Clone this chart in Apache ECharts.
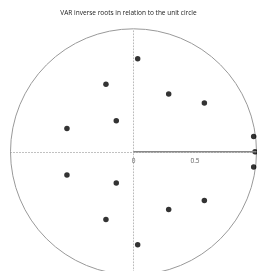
<!DOCTYPE html>
<html lang="en">

<head>
  <meta charset="utf-8">
  <title>VAR inverse roots</title>
  <style>
    html, body { margin: 0; padding: 0; background: #fff; }
    .box { width: 257px; height: 271px; }
  </style>
</head>

<body>
  <script src="https://cdn.jsdelivr.net/npm/echarts@6/dist/echarts.min.js"></script>
  <div class="box"></div>
  <script>
    var rootRe = [0.034, 0.286, 0.576, 0.977, 0.988, -0.224, -0.140, -0.541,
                  -0.541, -0.140, -0.224, 0.977, 0.576, 0.286, 0.034];
    var rootIm = [0.756, 0.469, 0.396, 0.124, 0, 0.550, 0.253, 0.189,
                  -0.189, -0.253, -0.550, -0.124, -0.396, -0.469, -0.756];
    // unit radius drawn on the real axis
    var radiusRe = [0, 1];
    var radiusIm = [0, 0];
    // tick labels shown on the real axis
    var xTickValues = [0, 0.5];
    var xTickLabels = ['0', '0.5'];

    var rootPoints = [];
    for (var i = 0; i < rootRe.length; i++) {
      rootPoints.push([rootRe[i], rootIm[i]]);
    }
    var radiusPoints = [];
    for (var j = 0; j < radiusRe.length; j++) {
      radiusPoints.push([radiusRe[j], radiusIm[j]]);
    }
    var tickPoints = [];
    for (var k = 0; k < xTickValues.length; k++) {
      tickPoints.push({ value: [xTickValues[k], 0], name: xTickLabels[k] });
    }

    var myChart = echarts.init(document.querySelector('.box'));

    var dotted = { color: '#bbb', type: [1, 2], width: 1 };

    var option = {
      animation: false,
      title: {
        text: 'VAR inverse roots in relation to the unit circle',
        left: 'center',
        top: 10,
        padding: 0,
        textStyle: { fontSize: 6.5, fontWeight: 'normal', color: '#222', fontFamily: 'Open Sans' }
      },
      grid: {
        left: 10.5, top: 28.8, width: 246, height: 246,
        outerBoundsMode: 'none'
      },
      xAxis: {
        type: 'value', min: -1, max: 1, interval: 0.5,
        splitLine: { show: false },
        axisTick: { show: false },
        axisLabel: { show: false },
        axisLine: { onZero: true, lineStyle: dotted }
      },
      yAxis: {
        type: 'value', min: -1, max: 1, interval: 0.5,
        splitLine: { show: false },
        axisTick: { show: false },
        axisLabel: { show: false },
        axisLine: { onZero: true, lineStyle: dotted }
      },
      series: [
        {
          // unit circle
          type: 'custom',
          silent: true,
          data: [[0, 0]],
          renderItem: function (params, api) {
            var c = api.coord([api.value(0), api.value(1)]);
            var r = api.size([1, 1])[0];
            return {
              type: 'circle',
              shape: { cx: c[0], cy: c[1], r: r },
              style: { fill: 'none', stroke: '#999', lineWidth: 1 }
            };
          }
        },
        {
          type: 'line',
          data: radiusPoints,
          symbol: 'none',
          lineStyle: { color: '#888', width: 1.6 }
        },
        {
          // tick labels
          type: 'scatter',
          data: tickPoints,
          symbolSize: 0,
          silent: true,
          label: {
            show: true,
            position: 'bottom',
            distance: 6,
            formatter: '{b}',
            fontSize: 6.5,
            color: '#333',
            fontFamily: 'Open Sans'
          }
        },
        {
          type: 'scatter',
          data: rootPoints,
          symbolSize: 5.5,
          itemStyle: { color: '#000' }
        }
      ]
    };
    myChart.setOption(option);
  </script>
</body>

</html>
